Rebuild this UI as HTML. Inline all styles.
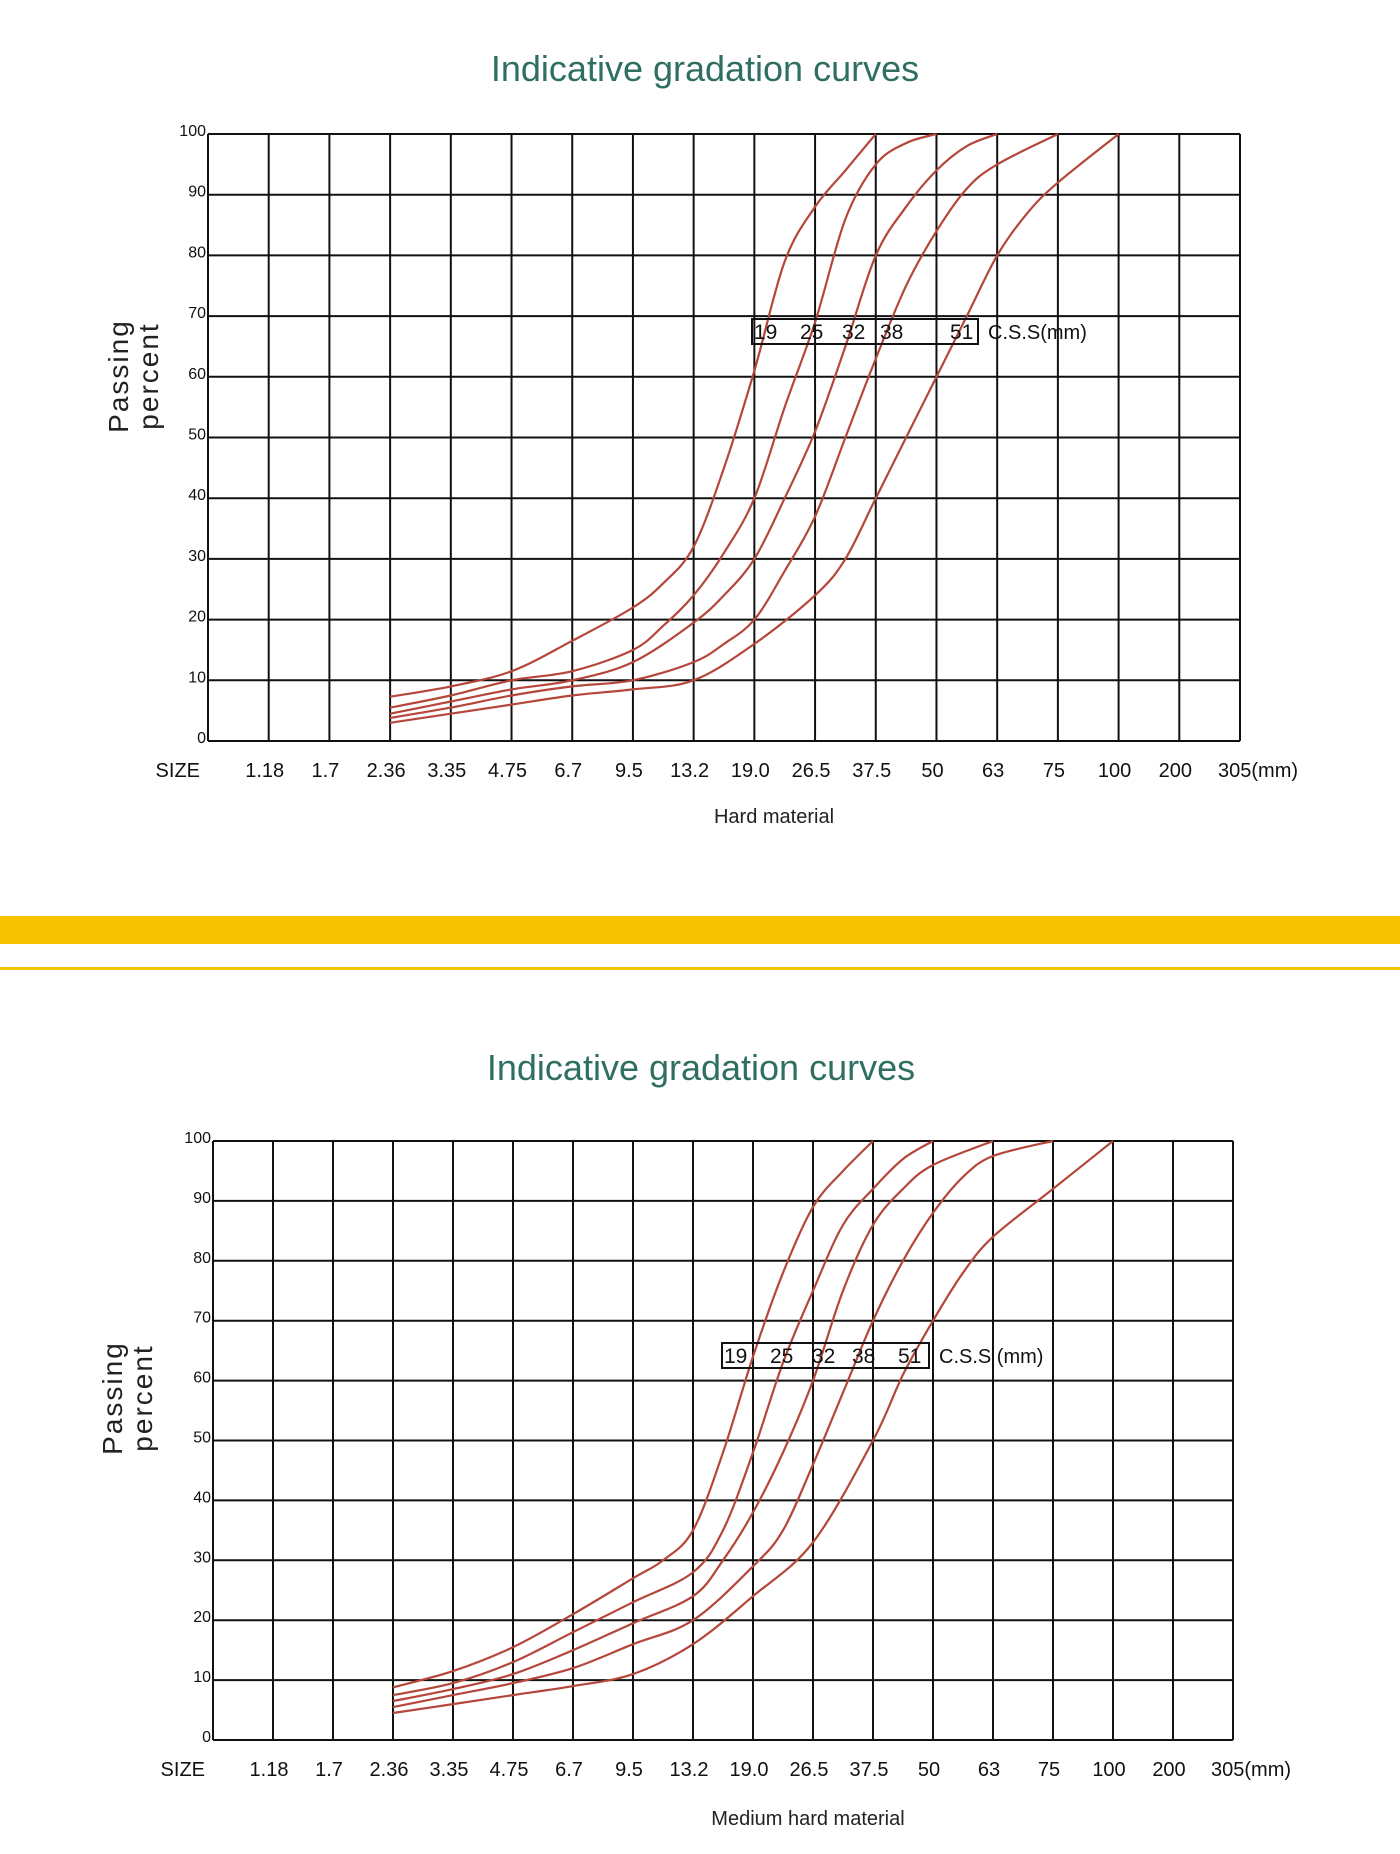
<!DOCTYPE html>
<html><head><meta charset="utf-8">
<style>
html,body{margin:0;padding:0;background:#fff;}
svg{display:block;font-family:"Liberation Sans",sans-serif;}
</style></head>
<body>
<svg id="root" width="1400" height="1854" viewBox="0 0 1400 1854" xmlns="http://www.w3.org/2000/svg">
  <rect x="0" y="916" width="1400" height="28" fill="#f7c200"/>
  <rect x="0" y="967" width="1400" height="3" fill="#f7c200"/>
</svg>
<script>
const sizeLabels = ["1.18","1.7","2.36","3.35","4.75","6.7","9.5","13.2","19.0","26.5","37.5","50","63","75","100","200","305(mm)"];
const yTicks = [0,10,20,30,40,50,60,70,80,90,100];
const seriesNames = ["19","25","32","38","51"];
// chart 1 (hard material): [size-index, percent passing]
const hard19 = [[3,7.3],[4,9],[5,11.5],[6,16.5],[7,22],[7.5,26],[8,32],[8.5,45],[9,61],[9.5,79],[10,88],[10.5,94],[11,100]];
const hard25 = [[3,5.5],[4,7.5],[5,10],[6,11.5],[7,15],[7.5,19],[8,24],[8.5,31],[9,40],[9.5,55],[10,69],[10.5,86],[11,95],[11.5,98.5],[12,100]];
const hard32 = [[3,4.5],[4,6.5],[5,8.5],[6,10],[7,13],[8,19.5],[8.5,24],[9,30],[9.5,40],[10,51],[10.5,65],[11,80],[11.5,88],[12,94],[12.5,98],[13,100]];
const hard38 = [[3,3.8],[4,5.5],[5,7.5],[6,9],[7,10],[8,13],[8.5,16],[9,20],[9.5,28],[10,37],[10.5,50],[11,63],[11.5,75],[12,84],[12.5,91],[13,95],[14,100]];
const hard51 = [[3,3],[4,4.5],[5,6],[6,7.5],[7,8.5],[8,10],[9,16],[10,24],[10.5,30],[11,40],[11.5,50],[12,60],[12.5,70],[13,80],[13.5,87],[14,92],[15,100]];
// chart 2 (medium hard material)
const med19 = [[3,8.8],[4,11.5],[5,15.5],[6,21],[7,27],[7.5,30],[8,35],[8.5,48],[9,64],[9.5,78],[10,89],[10.5,95],[11,100]];
const med25 = [[3,7.5],[4,9.5],[5,13],[6,18],[7,23],[8,28],[8.5,35],[9,48],[9.5,63],[10,75],[10.5,86],[11,92],[11.5,97],[12,100]];
const med32 = [[3,6.5],[4,8.5],[5,11],[6,15],[7,19.5],[8,24],[8.5,30],[9,38],[9.5,48],[10,60],[10.5,75],[11,86],[11.5,92],[12,96],[13,100]];
const med38 = [[3,5.5],[4,7.5],[5,9.5],[6,12],[7,16],[8,20],[9,29],[9.5,35],[10,46],[10.5,58],[11,70],[11.5,80],[12,88],[12.5,94],[13,97.5],[14,100]];
const med51 = [[3,4.5],[4,6],[5,7.5],[6,9],[7,11],[8,16],[9,24],[10,33],[11,50],[11.5,61],[12,70],[12.5,78],[13,84],[14,92],[15,100]];

const NS = "http://www.w3.org/2000/svg";
const root = document.getElementById("root");
function mk(tag, attrs, parent, text){
  const e = document.createElementNS(NS, tag);
  for (const k in attrs) e.setAttribute(k, attrs[k]);
  if (text !== undefined) e.textContent = text;
  parent.appendChild(e);
  return e;
}
function smoothPath(pts){
  let d = "M"+pts[0][0].toFixed(1)+","+pts[0][1].toFixed(1);
  for (let i=0;i<pts.length-1;i++){
    const p0=pts[Math.max(0,i-1)], p1=pts[i], p2=pts[i+1], p3=pts[Math.min(pts.length-1,i+2)];
    const c1x=p1[0]+(p2[0]-p0[0])/6, c1y=p1[1]+(p2[1]-p0[1])/6;
    const c2x=p2[0]-(p3[0]-p1[0])/6, c2y=p2[1]-(p3[1]-p1[1])/6;
    d += " C"+c1x.toFixed(1)+","+c1y.toFixed(1)+" "+c2x.toFixed(1)+","+c2y.toFixed(1)+" "+p2[0].toFixed(1)+","+p2[1].toFixed(1);
  }
  return d;
}
function drawChart(cfg){
  const g = mk("g", {}, root);
  
  
  const L=cfg.left, R=cfg.right, T=cfg.top, B=cfg.bottom;
  const nCols = sizeLabels.length;
  const xs = i => L + (R-L)*i/nCols;
  const ys = v => B - (B-T)*v/100;
  const title = mk("text", {x:cfg.titleX, y:cfg.titleY, "text-anchor":"middle", "font-size":36, fill:"#2f6f62"}, g, "Indicative gradation curves");
  
  
  // grid
  const grid = mk("g", {stroke:"#111", "stroke-width":2}, g);
  
  
  for (let i=0;i<=nCols;i++) mk("line",{x1:xs(i),x2:xs(i),y1:T,y2:B},grid);
  yTicks.forEach(v => mk("line",{x1:L,x2:R,y1:ys(v),y2:ys(v)},grid));
  // y tick labels
  yTicks.forEach(v => {
    const t = mk("text",{x:L-2,y:ys(v)+2,"text-anchor":"end","font-size":16,fill:"#111"},g,String(v));
    
    
  });
  // x labels
  const sz = mk("text",{x:L-8,y:cfg.labelY,"text-anchor":"end","font-size":20,fill:"#111"},g,"SIZE");
  
  
  sizeLabels.forEach((s,i) => {
    const last = i===nCols-1;
    const t = mk("text",{x:xs(i+1)+(last?-22:-4),y:cfg.labelY,"text-anchor":last?"start":"middle","font-size":20,fill:"#111"},g,s);
    
    
  });
  const sub = mk("text",{x:cfg.subX,y:cfg.subY,"text-anchor":"middle","font-size":20,fill:"#222"},g,cfg.subtitle);
  
  
  // y axis title
  const yt = mk("g",{transform:"translate("+cfg.yTitleX+","+cfg.yTitleY+") rotate(-90)"},g);
  
  
  mk("text",{x:0,y:0,"text-anchor":"middle","font-size":28,fill:"#222","letter-spacing":"2"},yt,"Passing");
  mk("text",{x:0,y:30,"text-anchor":"middle","font-size":28,fill:"#222","letter-spacing":"2"},yt,"percent");
  // curves
  cfg.series.forEach((arr,k) => {
    const pts = arr.map(p => [xs(p[0]), ys(p[1])]);
    const p = mk("path",{d:smoothPath(pts),fill:"none",stroke:"#b5463a","stroke-width":2.2},g);
    
    
  });
  // legend
  const lg = mk("g",{},g);
  
  
  mk("rect",{x:cfg.legX,y:cfg.legY,width:cfg.legW,height:25,fill:"none",stroke:"#111","stroke-width":2},lg);
  cfg.legPos.forEach((px,k) => mk("text",{x:px,y:cfg.legY+20,"font-size":21,fill:"#111"},lg,seriesNames[k]));
  mk("text",{x:cfg.legX+cfg.legW+10,y:cfg.legY+20,"font-size":20,fill:"#111"},lg,cfg.legText);
}
drawChart({name:"chart-hard-material",left:208,right:1240,top:134,bottom:741,titleX:705,titleY:81,labelY:777,
  subtitle:"Hard material",subX:774,subY:823,yTitleX:128,yTitleY:376,
  series:[hard19,hard25,hard32,hard38,hard51],
  legX:752,legY:319,legW:226,legPos:[754,800,842,880,950],legText:"C.S.S(mm)"});
drawChart({name:"chart-medium-hard-material",left:213,right:1233,top:1141,bottom:1740,titleX:701,titleY:1080,labelY:1776,
  subtitle:"Medium hard material",subX:808,subY:1825,yTitleX:122,yTitleY:1398,
  series:[med19,med25,med32,med38,med51],
  legX:722,legY:1343,legW:207,legPos:[724,770,812,852,898],legText:"C.S.S  (mm)"});
</script>
</body></html>
